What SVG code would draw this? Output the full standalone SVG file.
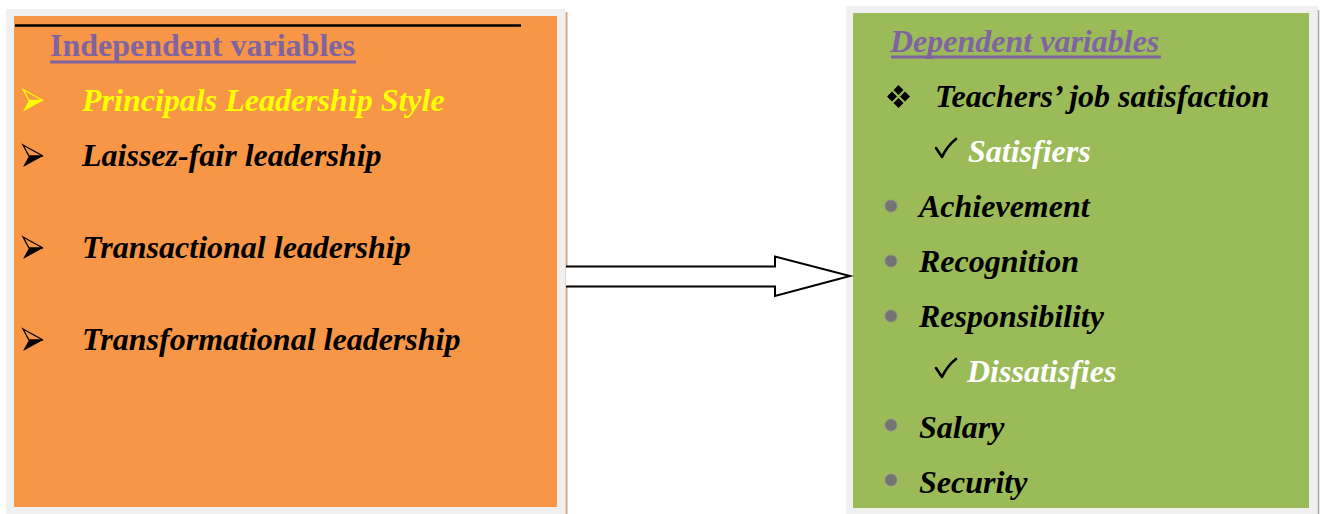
<svg xmlns="http://www.w3.org/2000/svg" width="1325" height="514" viewBox="0 0 1325 514">
  <defs>
    <style>
      .frame { fill: #f0f0f0; }
      .txt { font-family: "Liberation Serif", "Times New Roman", serif; font-size: 32px; font-weight: bold; font-style: italic; fill: #000; }
      .title { font-family: "Liberation Serif", "Times New Roman", serif; font-size: 32px; font-weight: bold; fill: #8064a2; }
      .white { fill: #ffffff; }
      .yellow { fill: #ffff00; }
      .uline { stroke: #8064a2; stroke-width: 3; }
      .dot { fill: #747474; stroke: #8a8a8a; stroke-width: 1; }
      .tick { fill: none; stroke: #000; stroke-width: 2.6; stroke-linecap: round; stroke-linejoin: round; }
    </style>
    <!-- three-dimensional arrowhead bullet: outlined upper facet, solid lower facet -->
    <g id="arrowBullet">
      <path d="M0,-11 L20,0 L6,0 Z" fill="none" stroke="currentColor" stroke-width="1.3" stroke-linejoin="miter"/>
      <path d="M6,0 L20,0 L0,11 Z" fill="currentColor"/>
    </g>
    <!-- four-diamond bullet -->
    <g id="diamondBullet">
      <path d="M0,-11.5 L5,-6.5 L0,-1.5 L-5,-6.5 Z M0,1.5 L5,6.5 L0,11.5 L-5,6.5 Z M-11.5,0 L-6.5,-5 L-1.5,0 L-6.5,5 Z M11.5,0 L6.5,-5 L1.5,0 L6.5,5 Z" fill="#000"/>
    </g>
    <!-- check mark bullet -->
    <path id="tickBullet" class="tick" d="M0,9 L6,18 Q11,7 20,0"/>
  </defs>

  <rect width="1325" height="514" fill="#ffffff"/>

  <!-- Independent variables box -->
  <g id="node-independent">
    <rect class="frame" x="6" y="9" width="559" height="505"/>
    <line x1="566.5" y1="12" x2="566.5" y2="514" stroke="#d2a88a" stroke-width="2"/>
    <rect x="14" y="16" width="543" height="491" fill="#f79646"/>
    <line x1="15" y1="25.5" x2="521" y2="25.5" stroke="#000" stroke-width="2.5"/>
    <text class="title" x="50" y="56">Independent variables</text>
    <line class="uline" x1="50" y1="62" x2="356" y2="62"/>
    <use href="#arrowBullet" x="23" y="100.5" color="#ffff00"/>
    <text class="txt yellow" x="82" y="111">Principals Leadership Style</text>
    <use href="#arrowBullet" x="23" y="156" color="#000"/>
    <text class="txt" x="82" y="166">Laissez-fair leadership</text>
    <use href="#arrowBullet" x="23" y="248" color="#000"/>
    <text class="txt" x="82" y="258">Transactional leadership</text>
    <use href="#arrowBullet" x="23" y="340" color="#000"/>
    <text class="txt" x="82" y="350">Transformational leadership</text>
  </g>

  <!-- Dependent variables box -->
  <g id="node-dependent">
    <rect class="frame" x="846" y="6" width="472" height="508"/>
    <line x1="1318.5" y1="10" x2="1318.5" y2="514" stroke="#a8a8a8" stroke-width="1.5"/>
    <rect x="853" y="13" width="456" height="495" fill="#9bbb59"/>
    <text class="title" x="890" y="52" font-style="italic">Dependent variables</text>
    <line class="uline" x1="891" y1="57" x2="1161" y2="57"/>

    <use href="#diamondBullet" x="898.5" y="96.5"/>
    <text class="txt" x="935" y="107">Teachers’ job satisfaction</text>

    <use href="#tickBullet" x="936" y="139"/>
    <text class="txt white" x="968" y="162">Satisfiers</text>

    <circle class="dot" cx="891" cy="206" r="6"/>
    <text class="txt" x="919" y="217">Achievement</text>
    <circle class="dot" cx="891" cy="261" r="6"/>
    <text class="txt" x="919" y="272">Recognition</text>
    <circle class="dot" cx="891" cy="316" r="6"/>
    <text class="txt" x="919" y="327">Responsibility</text>

    <use href="#tickBullet" x="936" y="359"/>
    <text class="txt white" x="967" y="382">Dissatisfies</text>

    <circle class="dot" cx="891" cy="425" r="6"/>
    <text class="txt" x="919" y="438">Salary</text>
    <circle class="dot" cx="891" cy="480" r="6"/>
    <text class="txt" x="919" y="493">Security</text>
  </g>

  <!-- connector: block arrow from independent to dependent -->
  <g id="connectors">
    <path d="M566,266.5 H775 V256.5 L850,276 L775,296 V286.5 H566" fill="#ffffff" stroke="#000" stroke-width="2" stroke-linejoin="miter"/>
  </g>
</svg>
